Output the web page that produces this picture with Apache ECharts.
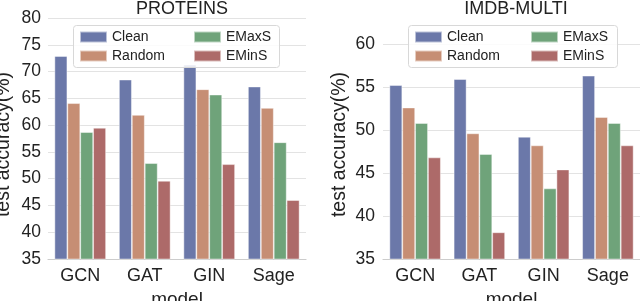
<!DOCTYPE html>
<html><head><meta charset="utf-8">
<script src="https://cdn.jsdelivr.net/npm/echarts@6/dist/echarts.min.js"></script>
<style>html,body{margin:0;padding:0;background:#fff}#c{width:640px;height:301px}</style>
</head><body><div id="c"></div>
<script>
const models = ['GCN', 'GAT', 'GIN', 'Sage'];
const seriesNames = ['Clean', 'Random', 'EMaxS', 'EMinS'];
const colors = ['#6b78a9', '#c68e74', '#6fa37a', '#ad6a69'];
const proteinsClean  = [72.9, 68.5, 71.3, 67.2];
const proteinsRandom = [64.1, 61.9, 66.7, 63.2];
const proteinsEMaxS  = [58.7, 52.9, 65.7, 56.8];
const proteinsEMinS  = [59.5, 49.6, 52.7, 46.0];
const imdbClean  = [55.2, 55.9, 49.2, 56.3];
const imdbRandom = [52.6, 49.6, 48.2, 51.5];
const imdbEMaxS  = [50.8, 47.2, 43.2, 50.8];
const imdbEMinS  = [46.8, 38.1, 45.4, 48.2];
const yTicksLeft = [35, 40, 45, 50, 55, 60, 65, 70, 75, 80];
const yTicksRight = [35, 40, 45, 50, 55, 60];

const FONT = '"Liberation Sans", Arial, sans-serif';
const chart = echarts.init(document.getElementById('c'));

function xAxis(gi) {
  return {
    type: 'category', gridIndex: gi, data: models,
    axisLine: {show: true, lineStyle: {color: '#cccccc', width: 1.2}},
    axisTick: {show: false},
    axisLabel: {color: '#222', fontSize: 18, fontFamily: FONT, margin: 8},
    name: 'model', nameLocation: 'middle', nameGap: 27,
    nameTextStyle: {color: '#222', fontSize: 19, fontFamily: FONT}
  };
}
function yAxis(gi, max, ticks, gap, labelMargin, showMax) {
  return {
    type: 'value', gridIndex: gi, min: 35, max: max, interval: 5,
    axisLine: {show: false}, axisTick: {show: false},
    axisLabel: {color: '#222', fontSize: 17.5, fontFamily: FONT, margin: labelMargin,
      formatter: v => ticks.includes(v) ? String(v) : ''},
    splitLine: {show: true, showMaxLine: showMax, lineStyle: {color: '#e3e3e3', width: 1}},
    name: 'test accuracy(%)', nameLocation: 'middle', nameGap: gap,
    nameTextStyle: {color: '#222', fontSize: 19.5, fontFamily: FONT, padding: [0, 12, 0, 0]}
  };
}
const leftData = [proteinsClean, proteinsRandom, proteinsEMaxS, proteinsEMinS];
const rightData = [imdbClean, imdbRandom, imdbEMaxS, imdbEMinS];
const series = [];
[leftData, rightData].forEach((d, gi) => {
  d.forEach((vals, i) => {
    series.push({
      type: 'bar', name: seriesNames[i], xAxisIndex: gi, yAxisIndex: gi, data: vals,
      barGap: '0%', barCategoryGap: '20%', z: 2,
      itemStyle: {color: colors[i], borderColor: 'rgba(255,255,255,0.55)', borderWidth: 0.8},
      emphasis: {disabled: true}
    });
  });
});
function legend(left, top, names) {
  return {
    left: left, top: top, orient: 'vertical', data: names, z: 6,
    itemWidth: 27, itemHeight: 11, itemGap: 5, padding: 0,
    textStyle: {color: '#222', fontSize: 14, fontFamily: FONT},
    selectedMode: false, icon: 'rect'
  };
}
chart.setOption({
  animation: false,
  textStyle: {fontFamily: FONT},
  title: [
    {text: 'PROTEINS', left: 177, top: -5, textAlign: 'center',
     textStyle: {fontSize: 18, fontWeight: 'normal', color: '#222', fontFamily: FONT}},
    {text: 'IMDB-MULTI', left: 511, top: -5, textAlign: 'center',
     textStyle: {fontSize: 18, fontWeight: 'normal', color: '#222', fontFamily: FONT}}
  ],
  grid: [
    {left: 48, right: 334, top: 18, bottom: 42, outerBoundsMode: 'none', containLabel: false},
    {left: 383, right: 0, top: 18, bottom: 42, outerBoundsMode: 'none', containLabel: false}
  ],
  xAxis: [xAxis(0), xAxis(1)],
  yAxis: [yAxis(0, 80, yTicksLeft, 34, 7, true), yAxis(1, 63, yTicksRight, 33, 8, false)],
  graphic: [
    {type: 'rect', z: 4, shape: {x: 73.5, y: 25.5, width: 206, height: 42, r: 3},
     style: {fill: 'rgba(255,255,255,0.85)', stroke: '#d8d8d8', lineWidth: 1}},
    {type: 'rect', z: 4, shape: {x: 408.5, y: 25.5, width: 209, height: 42, r: 3},
     style: {fill: 'rgba(255,255,255,0.85)', stroke: '#d8d8d8', lineWidth: 1}}
  ],
  legend: [
    legend(79, 30, ['Clean', 'Random']),
    legend(193, 30, ['EMaxS', 'EMinS']),
    legend(414, 30, ['Clean', 'Random']),
    legend(530, 30, ['EMaxS', 'EMinS'])
  ],
  series: series
});
</script></body></html>
